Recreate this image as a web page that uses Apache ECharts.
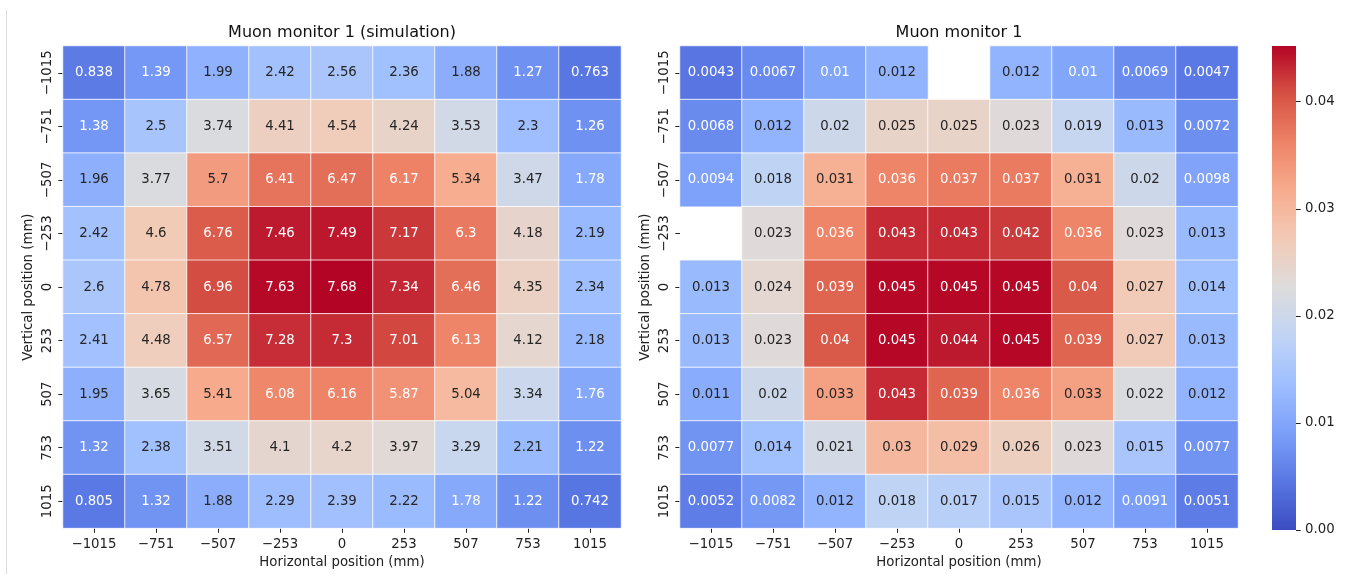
<!DOCTYPE html>
<html>
<head>
<meta charset="utf-8">
<script src="https://cdn.jsdelivr.net/npm/echarts@6/dist/echarts.min.js"></script>
<style>
  html, body { margin: 0; padding: 0; background: #fff; }
  #chart { width: 1346px; height: 574px; }
</style>
</head>
<body>
<div id="chart"></div>
<script>
// Detector grid positions (mm), used for both axes
const positions = ['\u22121015', '\u2212751', '\u2212507', '\u2212253', '0', '253', '507', '753', '1015'];

// Simulated muon yield per pad, rows top (-1015) to bottom (1015)
const simulated = [
  [0.838, 1.39, 1.99, 2.42, 2.56, 2.36, 1.88, 1.27, 0.763],
  [1.38, 2.5, 3.74, 4.41, 4.54, 4.24, 3.53, 2.3, 1.26],
  [1.96, 3.77, 5.7, 6.41, 6.47, 6.17, 5.34, 3.47, 1.78],
  [2.42, 4.6, 6.76, 7.46, 7.49, 7.17, 6.3, 4.18, 2.19],
  [2.6, 4.78, 6.96, 7.63, 7.68, 7.34, 6.46, 4.35, 2.34],
  [2.41, 4.48, 6.57, 7.28, 7.3, 7.01, 6.13, 4.12, 2.18],
  [1.95, 3.65, 5.41, 6.08, 6.16, 5.87, 5.04, 3.34, 1.76],
  [1.32, 2.38, 3.51, 4.1, 4.2, 3.97, 3.29, 2.21, 1.22],
  [0.805, 1.32, 1.88, 2.29, 2.39, 2.22, 1.78, 1.22, 0.742]
];

// Measured signal per pad; null marks a dead channel
const measured = [
  [0.0043, 0.0067, 0.01, 0.012, null, 0.012, 0.01, 0.0069, 0.0047],
  [0.0068, 0.012, 0.02, 0.025, 0.025, 0.023, 0.019, 0.013, 0.0072],
  [0.0094, 0.018, 0.031, 0.036, 0.037, 0.037, 0.031, 0.02, 0.0098],
  [null, 0.023, 0.036, 0.043, 0.043, 0.042, 0.036, 0.023, 0.013],
  [0.013, 0.024, 0.039, 0.045, 0.045, 0.045, 0.04, 0.027, 0.014],
  [0.013, 0.023, 0.04, 0.045, 0.044, 0.045, 0.039, 0.027, 0.013],
  [0.011, 0.02, 0.033, 0.043, 0.039, 0.036, 0.033, 0.022, 0.012],
  [0.0077, 0.014, 0.021, 0.03, 0.029, 0.026, 0.023, 0.015, 0.0077],
  [0.0052, 0.0082, 0.012, 0.018, 0.017, 0.015, 0.012, 0.0091, 0.0051]
];

// Upper end of the measured colour scale (unrounded peak of the measured pads)
const measuredScaleTop = 0.0452;
const colorbarTicks = [0, 0.01, 0.02, 0.03, 0.04];

// coolwarm colour map, evenly spaced stops
const coolwarm = ['#3b4cc0', '#5977e3', '#7b9ff9', '#9ebeff', '#c0d4f5', '#dddcdc',
                  '#f2cbb7', '#f7ac8e', '#ee8468', '#d65244', '#b40426'];

const FONT = "'DejaVu Sans', sans-serif";
const INK = '#222222';

const flat = m => m.flat().filter(v => v != null);
const simMax = Math.max(...flat(simulated));
const measMax = Math.max(measuredScaleTop, ...flat(measured));

function hexToRgb(h) {
  return [1, 3, 5].map(i => parseInt(h.slice(i, i + 2), 16));
}
function sample(t) {
  t = Math.min(1, Math.max(0, t));
  const pos = t * (coolwarm.length - 1);
  const i = Math.min(coolwarm.length - 2, Math.floor(pos));
  const f = pos - i;
  const a = hexToRgb(coolwarm[i]), b = hexToRgb(coolwarm[i + 1]);
  return a.map((v, k) => v + (b[k] - v) * f);
}
function luminance(rgb) {
  const c = rgb.map(v => {
    v /= 255;
    return v <= 0.03928 ? v / 12.92 : Math.pow((v + 0.055) / 1.055, 2.4);
  });
  return 0.2126 * c[0] + 0.7152 * c[1] + 0.0722 * c[2];
}

// Heatmap items; annotation colour follows the cell brightness
function cells(matrix, vmax) {
  const out = [];
  matrix.forEach((row, yi) => row.forEach((v, xi) => {
    if (v == null) {
      out.push({ value: [xi, yi, '-'], label: { show: false } });
      return;
    }
    const rgb = sample(v / vmax);
    out.push({
      value: [xi, yi, v],
      label: { color: luminance(rgb) > 0.408 ? '#262626' : '#ffffff' }
    });
  }));
  return out;
}

function xAxisFor(gridIndex) {
  return {
    type: 'category', gridIndex, data: positions, position: 'bottom',
    axisLine: { show: false },
    axisTick: { show: true, alignWithLabel: true, interval: 0, length: 4.7, lineStyle: { color: INK, width: 1 } },
    axisLabel: { interval: 0, margin: 10, fontSize: 13.3, color: INK, fontFamily: FONT },
    splitLine: { show: false },
    name: 'Horizontal position (mm)', nameLocation: 'middle', nameGap: 27,
    nameTextStyle: { fontSize: 13.3, color: INK, fontFamily: FONT }
  };
}
function yAxisFor(gridIndex) {
  return {
    type: 'category', gridIndex, data: positions, inverse: true,
    axisLine: { show: false },
    axisTick: { show: true, alignWithLabel: true, interval: 0, length: 4.7, lineStyle: { color: INK, width: 1 } },
    axisLabel: { interval: 0, margin: 9, rotate: 90, fontSize: 13.3, color: INK, fontFamily: FONT },
    splitLine: { show: false },
    name: 'Vertical position (mm)', nameLocation: 'middle', nameGap: 28,
    nameTextStyle: { fontSize: 13.3, color: INK, fontFamily: FONT }
  };
}

function heatSeries(index, matrix, vmax) {
  return {
    type: 'heatmap', xAxisIndex: index, yAxisIndex: index,
    data: cells(matrix, vmax),
    itemStyle: { borderColor: '#ffffff', borderWidth: 0.8 },
    label: {
      show: true, fontSize: 13.3, fontFamily: FONT,
      formatter: p => String(p.value[2])
    },
    emphasis: { disabled: true },
    silent: true
  };
}

const chart = echarts.init(document.getElementById('chart'), null, { renderer: 'canvas' });

chart.setOption({
  backgroundColor: '#ffffff',
  animation: false,
  title: [
    { text: 'Muon monitor 1 (simulation)', left: 342, top: 25, textAlign: 'center', padding: 0,
      textStyle: { fontSize: 16, fontWeight: 'normal', color: '#111', fontFamily: FONT } },
    { text: 'Muon monitor 1', left: 959, top: 25, textAlign: 'center', padding: 0,
      textStyle: { fontSize: 16, fontWeight: 'normal', color: '#111', fontFamily: FONT } }
  ],
  grid: [
    { left: 63, top: 46, width: 558, height: 484 },
    { left: 680, top: 46, width: 558, height: 484 },
    { left: 1272, top: 46, width: 24, height: 484 }
  ],
  xAxis: [
    xAxisFor(0),
    xAxisFor(1),
    { type: 'category', gridIndex: 2, data: [''], show: false }
  ],
  yAxis: [
    yAxisFor(0),
    yAxisFor(1),
    {
      type: 'value', gridIndex: 2, position: 'right', min: 0, max: measMax,
      axisLine: { show: false },
      splitLine: { show: false },
      axisTick: { show: true, length: 4.7, customValues: colorbarTicks, lineStyle: { color: INK } },
      axisLabel: { margin: 9, fontSize: 13.3, color: INK, fontFamily: FONT,
        customValues: colorbarTicks, formatter: v => v.toFixed(2) }
    }
  ],
  visualMap: [
    { type: 'continuous', show: false, seriesIndex: 0, min: 0, max: simMax, inRange: { color: coolwarm } },
    { type: 'continuous', show: false, seriesIndex: 1, min: 0, max: measMax, inRange: { color: coolwarm } }
  ],
  graphic: [
    { type: 'line', silent: true, shape: { x1: 6.5, y1: 10, x2: 6.5, y2: 574 },
      style: { stroke: '#dcdcdc', lineWidth: 1 } }
  ],
  series: [
    heatSeries(0, simulated, simMax),
    heatSeries(1, measured, measMax),
    {
      // colour bar for the measured panel
      type: 'bar', xAxisIndex: 2, yAxisIndex: 2, barWidth: '100%', silent: true,
      data: [measMax],
      itemStyle: {
        color: new echarts.graphic.LinearGradient(0, 1, 0, 0,
          coolwarm.map((c, i) => ({ offset: i / (coolwarm.length - 1), color: c })))
      }
    }
  ]
});
</script>
</body>
</html>
